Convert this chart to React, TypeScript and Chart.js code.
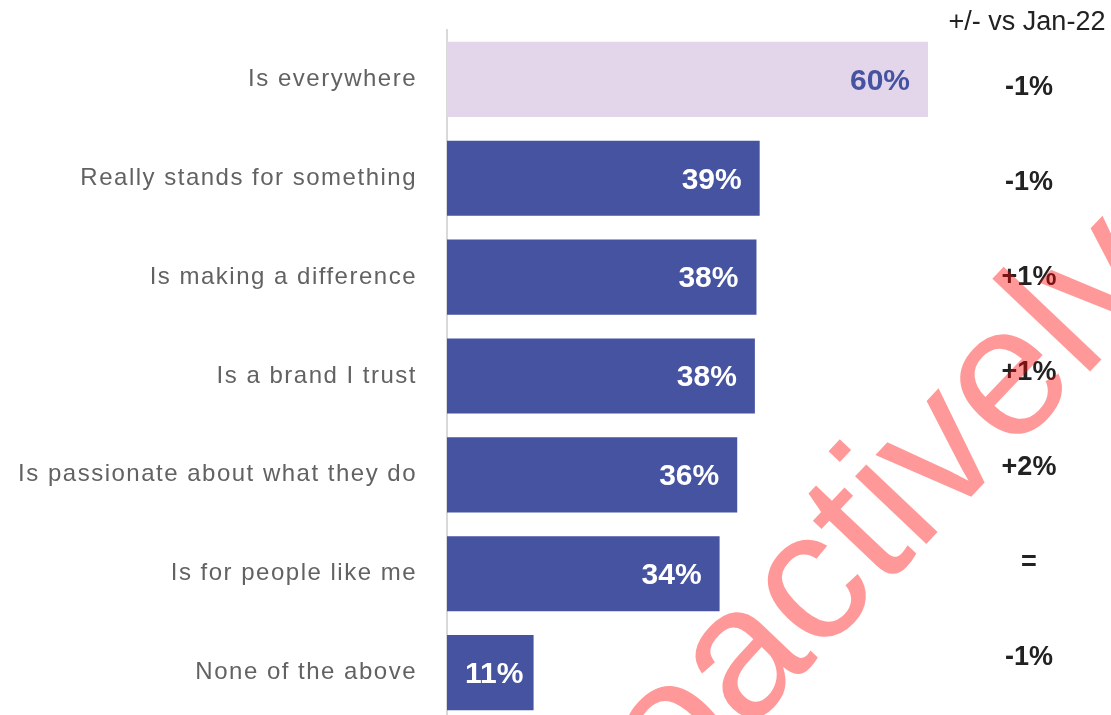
import React, { useEffect, useRef } from "react";
import { Chart, registerables } from "chart.js";

Chart.register(...registerables);

const categories = [
  "Is everywhere",
  "Really stands for something",
  "Is making a difference",
  "Is a brand I trust",
  "Is passionate about what they do",
  "Is for people like me",
  "None of the above",
];
const values = [60, 39, 38.6, 38.4, 36.2, 34, 10.8];
const valueLabels = ["60%", "39%", "38%", "38%", "36%", "34%", "11%"];
const changeHeader = "+/- vs Jan-22";
const changeLabels = ["-1%", "-1%", "+1%", "+1%", "+2%", "=", "-1%"];
const watermarkText = "proactively";

const BLUE = "#4553A0";
const LAVENDER = "#E4D6EA";
const barColors = [LAVENDER, BLUE, BLUE, BLUE, BLUE, BLUE, BLUE];
const valueLabelColors = [BLUE, "#FFFFFF", "#FFFFFF", "#FFFFFF", "#FFFFFF", "#FFFFFF", "#FFFFFF"];

const FONT = "'Liberation Sans', Arial, Helvetica, sans-serif";

const spacingPlugin = {
  id: "labelSpacing",
  beforeDraw(chart: any) {
    (chart.ctx as any).letterSpacing = "1.5px";
  },
  beforeDatasetsDraw(chart: any) {
    (chart.ctx as any).letterSpacing = "0px";
  },
};

const annotationPlugin = {
  id: "annotations",
  afterDatasetsDraw(chart: any) {
    const ctx = chart.ctx;
    const meta = chart.getDatasetMeta(0);
    ctx.save();
    ctx.font = `bold 30px ${FONT}`;
    ctx.textAlign = "right";
    ctx.textBaseline = "middle";
    meta.data.forEach((bar: any, i: number) => {
      const w = ctx.measureText(valueLabels[i]).width;
      const right = Math.max(bar.x - 18, bar.base + 18 + w);
      ctx.fillStyle = valueLabelColors[i];
      ctx.fillText(valueLabels[i], right, bar.y + 2);
    });
    ctx.restore();
  },
  afterDraw(chart: any) {
    const ctx = chart.ctx;
    const yScale = chart.scales.y;
    const area = chart.chartArea;
    const colX = 1029;
    ctx.save();
    ctx.textAlign = "center";
    ctx.textBaseline = "middle";
    ctx.fillStyle = "#222222";
    ctx.font = `27px ${FONT}`;
    ctx.fillText(changeHeader, colX - 2, area.top - 7);
    ctx.font = `bold 27px ${FONT}`;
    const y0 = yScale.getPixelForValue(0);
    changeLabels.forEach((t, i) => {
      const c = yScale.getPixelForValue(i);
      const y = y0 + 8 + (c - y0) * 0.961;
      ctx.fillText(t, colX, y);
    });
    ctx.restore();

    // watermark
    ctx.save();
    ctx.translate(562, 928);
    ctx.rotate((-46.5 * Math.PI) / 180);
    ctx.font = `186px ${FONT}`;
    ctx.textAlign = "left";
    ctx.textBaseline = "alphabetic";
    ctx.fillStyle = "rgba(255, 0, 0, 0.4)";
    ctx.fillText(watermarkText, 0, 0);
    ctx.restore();
  },
};

export default function App() {
  const canvasRef = useRef<HTMLCanvasElement | null>(null);

  useEffect(() => {
    if (!canvasRef.current) return;
    const chart = new Chart(canvasRef.current, {
      type: "bar",
      data: {
        labels: categories,
        datasets: [
          {
            data: values,
            backgroundColor: barColors,
            borderWidth: 0,
            barPercentage: 0.76,
            categoryPercentage: 1,
          },
        ],
      },
      options: {
        indexAxis: "y",
        animation: false,
        responsive: true,
        maintainAspectRatio: false,
        layout: { padding: { top: 30, bottom: 0, left: 0, right: 62.7 } },
        plugins: {
          legend: { display: false },
          tooltip: { enabled: false },
          title: { display: false },
        },
        scales: {
          x: {
            type: "linear",
            min: 0,
            max: 75,
            display: false,
          },
          y: {
            type: "category",
            grid: { display: false, drawTicks: false },
            border: { display: true, color: "#d9d9d9", width: 2 },
            ticks: {
              color: "#626262",
              padding: 30,
              font: { family: FONT, size: 24 },
            },
            afterFit: (scale: any) => {
              scale.width = 447;
              scale.paddingTop = 0;
              scale.paddingBottom = 0;
            },
          },
        },
      },
      plugins: [spacingPlugin, annotationPlugin],
    });
    return () => chart.destroy();
  }, []);

  return (
    <div style={{ position: "fixed", left: 0, top: 0, width: 1111, height: 722, background: "#ffffff" }}>
      <canvas ref={canvasRef} />
    </div>
  );
}
